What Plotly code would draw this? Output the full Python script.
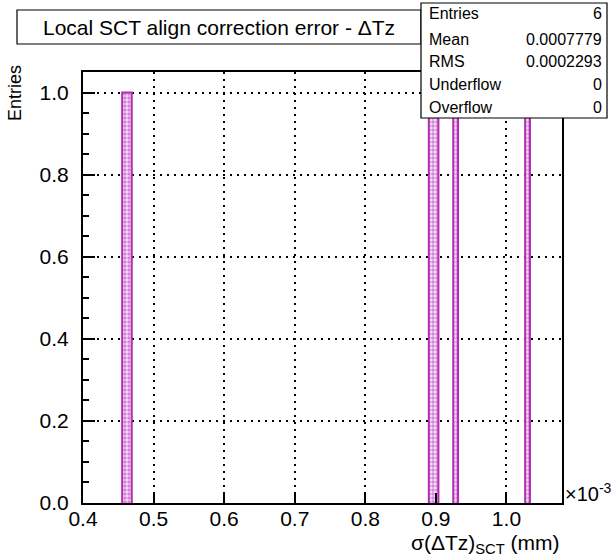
import plotly.graph_objects as go

# ---- data (x in units of 1e-3 mm) ----
bin_width = 0.0068
bin_low_edges = [0.4555, 0.4623, 0.8900, 0.8968, 0.9246, 1.0265]
bin_counts = [1, 1, 1, 1, 1, 1]
x_min, x_max = 0.4, 1.0787
y_min, y_max = 0.0, 1.05

stats_labels = ["Entries", "Mean", "RMS", "Underflow", "Overflow"]
stats_values = ["6", "0.0007779", "0.0002293", "0", "0"]

title_text = "Local SCT align correction error - \u0394Tz"
x_title = "\u03c3(\u0394Tz)<sub>SCT</sub> (mm)"
y_title = "Entries"

# ---- geometry ----
W, H = 612, 559
L, R, T, B = 83, 50, 72, 56
PW, PH = W - L - R, H - T - B


def px(x):
    return (x - L) / PW


def py(y):
    return (H - B - y) / PH


FONT = "Liberation Sans, Arial, Helvetica, sans-serif"
MAG = "#b52db5"

centers = [e + bin_width / 2 for e in bin_low_edges]

fig = go.Figure()
fig.add_trace(go.Bar(
    x=centers, y=bin_counts, width=[bin_width] * len(centers),
    marker=dict(color="white", line=dict(width=0),
                pattern=dict(shape=".", fgcolor=MAG, bgcolor="#f4e0f4", size=4, solidity=0.6)),
    showlegend=False, hoverinfo="skip",
))

# histogram outline (ROOT style step), one closed run per group of adjacent bins
runs = []
for e, c in zip(bin_low_edges, bin_counts):
    if runs and abs(e - runs[-1][-1][0] - bin_width) < 1e-9:
        runs[-1].append((e, c))
    else:
        runs.append([(e, c)])
sx, sy = [], []
for run in runs:
    lo = run[0][0]
    sx += [lo]
    sy += [0]
    for e, c in run:
        sx += [e, e + bin_width]
        sy += [c, c]
    sx += [run[-1][0] + bin_width, None]
    sy += [0, None]
fig.add_trace(go.Scatter(x=sx, y=sy, mode="lines", line=dict(color=MAG, width=2),
                         showlegend=False, hoverinfo="skip", cliponaxis=True, connectgaps=False))

axis_common = dict(
    showline=True, linecolor="black", linewidth=2, mirror=True,
    ticks="inside", tickcolor="black", tickwidth=1.5,
    showgrid=True, gridcolor="black", gridwidth=1.5, griddash="2px,5px",
    zeroline=False, tickfont=dict(family=FONT, size=21, color="black"),
    tickformat=".1f",
)

fig.update_xaxes(range=[x_min, x_max], dtick=0.1, tick0=0.4, ticklen=10, ticklabelstandoff=-4, **axis_common)
fig.update_yaxes(range=[y_min, y_max], dtick=0.2, tick0=0.0, ticklen=12, ticklabelstandoff=8,
                 minor=dict(dtick=0.05, ticklen=6, ticks="inside", tickcolor="black", tickwidth=1.5, showgrid=False),
                 **axis_common)

shapes = [
    dict(type="rect", xref="paper", yref="paper", x0=px(17), x1=px(421), y0=py(44), y1=py(10),
         line=dict(color="black", width=1.2), fillcolor="white", layer="above"),
    dict(type="rect", xref="paper", yref="paper", x0=px(421), x1=px(607), y0=py(118), y1=py(3),
         line=dict(color="black", width=1.2), fillcolor="white", layer="above"),
]

annotations = [
    dict(text=title_text, xref="paper", yref="paper", x=px(219), y=py(27), xanchor="center", yanchor="middle",
         showarrow=False, font=dict(family=FONT, size=21, color="black")),
    dict(text=x_title, xref="paper", yref="paper", x=px(562), y=py(559), xanchor="right", yanchor="bottom",
         showarrow=False, font=dict(family=FONT, size=21, color="black")),
    dict(text="\u00d710<sup>-3</sup>", xref="paper", yref="paper", x=px(563), y=py(492), xanchor="left",
         yanchor="middle", showarrow=False, font=dict(family=FONT, size=20, color="black")),
    dict(text=y_title, xref="paper", yref="paper", x=px(15), y=py(93), xanchor="center", yanchor="middle",
         textangle=-90, showarrow=False, font=dict(family=FONT, size=18, color="black")),
]
row_y = [14, 39, 61, 84, 107]
for lab, val, yy in zip(stats_labels, stats_values, row_y):
    annotations.append(dict(text=lab, xref="paper", yref="paper", x=px(427), y=py(yy), xanchor="left",
                            yanchor="middle", showarrow=False, font=dict(family=FONT, size=16, color="black")))
    annotations.append(dict(text=val, xref="paper", yref="paper", x=px(604), y=py(yy), xanchor="right",
                            yanchor="middle", showarrow=False, font=dict(family=FONT, size=16, color="black")))

fig.update_layout(
    width=W, height=H, margin=dict(l=L, r=R, t=T, b=B),
    paper_bgcolor="white", plot_bgcolor="white",
    shapes=shapes, annotations=annotations, bargap=0,
)

fig.write_html("out.html", config={"displayModeBar": False},
               post_script="document.body.style.margin='0';document.body.style.overflow='hidden';")
